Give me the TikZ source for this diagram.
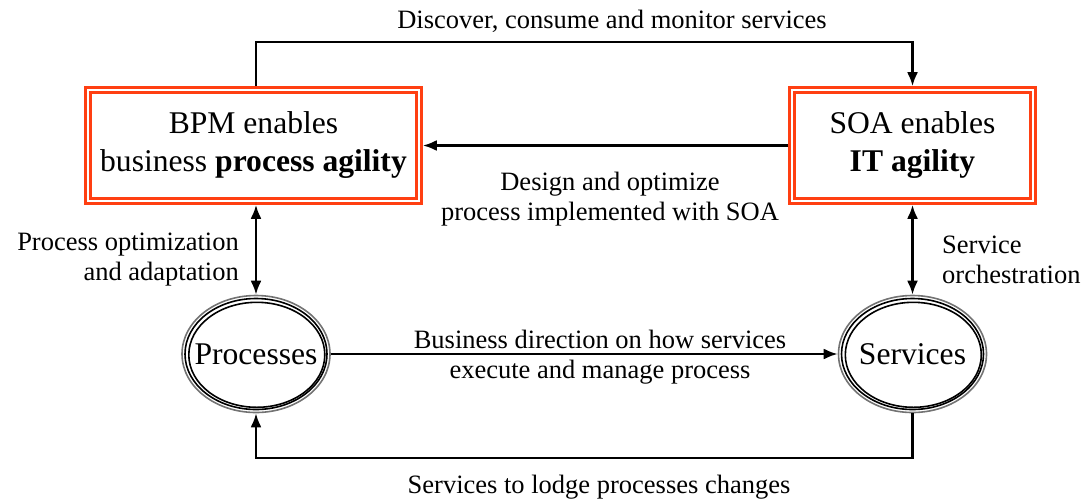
\documentclass[tikz,border=0pt]{standalone}
\usepackage{fontspec}
\setmainfont{Liberation Serif}
\usetikzlibrary{arrows.meta,shapes.geometric}
\definecolor{agilered}{HTML}{FF3F12}
\begin{document}
\begin{tikzpicture}[x=1pt,y=-1pt,
  agilebox/.style={rectangle, draw=agilered, line width=2.6pt, double=white,
    double distance=2.4pt, outer sep=3.8pt, inner sep=0pt, align=center,
    minimum width=331pt, minimum height=111pt,
    font=\fontsize{31.6}{38}\selectfont},
  realm/.style={ellipse, draw=black, line width=1.6pt, inner sep=0pt,
    minimum width=148pt, minimum height=117pt, outer sep=0.8pt,
    font=\fontsize{31.6}{38}\selectfont},
  ring/.style={line width=1.6pt},
  label/.style={align=center, inner sep=0pt, font=\fontsize{26.5}{30}\selectfont},
  tip/.tip={Latex[length=14pt,width=11pt]},
  flow/.style={line width=2.5pt, -tip},
  twoway/.style={line width=2.5pt, tip-tip}
]
\useasboundingbox (0,0) rectangle (1083,499);

% the two agility boxes
\node[agilebox] (bpm) at (253.5,145.5) {BPM enables\\business \textbf{process agility}};
\node[agilebox, minimum width=241pt] (soa) at (912.5,145.5) {SOA enables\\\textbf{IT agility}};

% the two realms, each drawn with three nested rings
\node[realm, draw=black!55] (proc) at (256,354) {};
\draw[ring] (proc.center) ellipse [x radius=71, y radius=55.5];
\draw[ring] ([shift={(0.8,0.8)}]proc.center) ellipse [x radius=68, y radius=52.5];
\node[font=\fontsize{31.6}{38}\selectfont] (proctext) at (proc.center) {Processes};

\node[realm, draw=black!55] (serv) at (912.5,354) {};
\draw[ring] (serv.center) ellipse [x radius=71, y radius=55.5];
\draw[ring] ([shift={(0.8,0.8)}]serv.center) ellipse [x radius=68, y radius=52.5];
\node[font=\fontsize{31.6}{38}\selectfont] (servtext) at (serv.center) {Services};

% routing points of the outer loops
\coordinate (top) at (600,42);
\coordinate (bot) at (600,458);

% connectors
\draw[flow] (proc.north |- bpm.north) |- (top) -| (soa.north);
\draw[flow] (soa.west) -- (bpm.east);
\draw[twoway] (proc.north |- bpm.south) -- (proc.north);
\draw[twoway] (serv.north |- soa.south) -- (serv.north);
\draw[flow] (proc.east) -- (serv.west);
\draw[flow] (serv.south) |- (bot) -| (proc.south);

% connector labels
\node[label] (ltop) at (612,21) {Discover, consume and monitor services};
\node[label] (lmid) at (610,199) {Design and optimize\\process implemented with SOA};
\node[label, anchor=east, align=right] (lleft) at (239,260) {Process optimization\\and adaptation};
\node[label, anchor=west, align=left] (lright) at (942,260) {Service\\orchestration};
\node[label] (lbiz) at (600,357) {Business direction on how services\\execute and manage process};
\node[label] (lbot) at (599,487) {Services to lodge processes changes};
\end{tikzpicture}
\end{document}
